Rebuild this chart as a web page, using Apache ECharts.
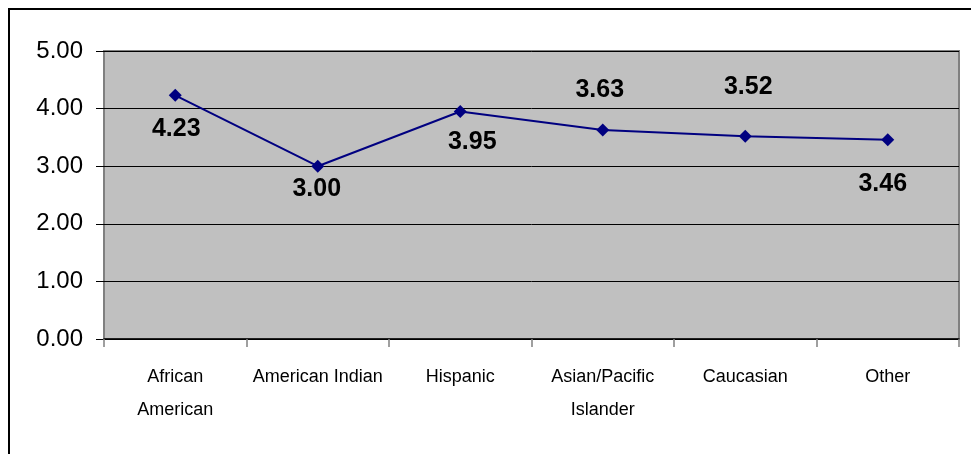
<!DOCTYPE html>
<html>
<head>
<meta charset="utf-8">
<script src="https://cdn.jsdelivr.net/npm/echarts@6/dist/echarts.min.js"></script>
<style>
html,body{margin:0;padding:0;background:#fff;}
#chart{width:971px;height:454px;}
</style>
</head>
<body>
<div id="chart"></div>
<script>
const categories = ['African\nAmerican', 'American Indian', 'Hispanic', 'Asian/Pacific\nIslander', 'Caucasian', 'Other'];
const values = [4.23, 3.00, 3.95, 3.63, 3.52, 3.46];
const yTicks = [0, 1, 2, 3, 4, 5];

// label placement (pixel offsets from each point)
const labelOffsets = [[1, 34], [-1, 23], [12, 31], [-3, -40], [3, -49], [-5, 44]];

const chart = echarts.init(document.getElementById('chart'));
chart.setOption({
  animation: false,
  backgroundColor: '#ffffff',
  graphic: [{
    type: 'rect',
    shape: { x: 9, y: 9, width: 1000, height: 500 },
    style: { fill: 'none', stroke: '#000', lineWidth: 2 },
    silent: true,
    z: 100
  }],
  grid: {
    left: 104, top: 51, right: 12, bottom: 115,
    show: true, backgroundColor: '#C0C0C0', borderColor: '#808080', borderWidth: 2
  },
  xAxis: {
    type: 'category',
    data: categories,
    boundaryGap: true,
    axisLine: { show: true, lineStyle: { color: '#000', width: 1.5 } },
    axisTick: { show: true, length: 8, lineStyle: { color: '#808080', width: 1.5 } },
    axisLabel: {
      interval: 0, margin: 22, lineHeight: 33,
      fontFamily: '"Liberation Sans Narrow", "Arial Narrow", "Liberation Sans", Arial, sans-serif',
      fontSize: 18, color: '#000'
    },
    splitLine: { show: false }
  },
  yAxis: {
    type: 'value',
    min: yTicks[0], max: yTicks[yTicks.length - 1], interval: 1,
    axisLine: { show: false },
    axisTick: { show: true, length: 8, lineStyle: { color: '#000', width: 1 } },
    axisLabel: {
      margin: 21, fontFamily: '"Liberation Sans", Arial, sans-serif', fontSize: 24, color: '#000',
      formatter: v => v.toFixed(2)
    },
    splitLine: { show: true, lineStyle: { color: '#000', width: 1 } }
  },
  series: [{
    type: 'line',
    data: values.map((v, i) => ({
      value: v,
      label: { offset: labelOffsets[i] }
    })),
    symbol: 'diamond',
    symbolSize: 13,
    lineStyle: { color: '#000080', width: 2 },
    itemStyle: { color: '#000080' },
    label: {
      show: true, position: 'inside',
      fontFamily: '"Liberation Sans", Arial, sans-serif', fontWeight: 'bold', fontSize: 25, color: '#000',
      formatter: p => p.value.toFixed(2)
    },
    z: 5
  }]
});
</script>
</body>
</html>
